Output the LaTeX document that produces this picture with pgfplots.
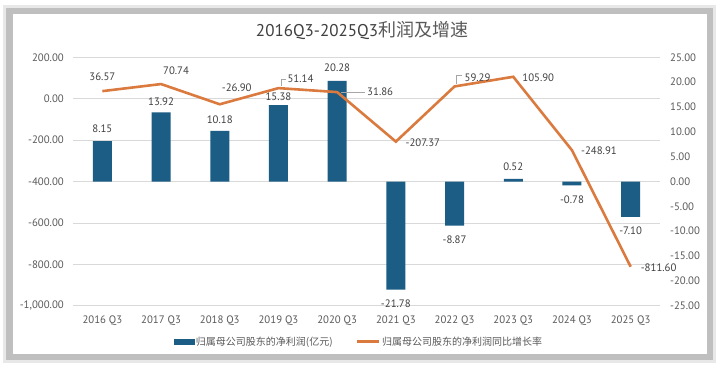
\documentclass[border=0pt]{standalone}
\usepackage{pgfplots}
\pgfplotsset{compat=1.18}
\usepackage{pgfplotstable}
\usepackage{fontspec}
\setmainfont{PT Sans}
\newfontfamily\cjk{Noto Sans CJK SC}
\definecolor{barblue}{HTML}{1B5D85}
\definecolor{lineor}{HTML}{DB7A3E}
\definecolor{gridc}{HTML}{D9D9D9}
\definecolor{tickc}{HTML}{595959}
\definecolor{labc}{HTML}{404040}

\pgfplotstableread{
x val off
0 8.15 12
1 13.92 11
2 10.18 11
3 15.38 8.5
4 20.28 13
5 -21.78 -14.5
6 -8.87 -14
7 0.52 12
8 -0.78 -14
9 -7.10 -14
}\bars

\pgfplotstableread{
x val dx dy
0 36.57 0 14.5
1 70.74 15 13.5
2 -26.90 17 17
3 51.14 22 9.5
4 31.86 43 0
5 -207.37 27 -1
6 59.29 23 9
7 105.90 25 -1
8 -248.91 27 0
9 -811.60 28 -1
}\growth

\pgfplotsset{
  geom/.style={at={(73pt,62.3pt)}, anchor=south west, scale only axis,
    width=587pt, height=248.4pt, xmin=-0.5, xmax=9.5,
    axis line style={draw=none}, major tick length=0pt},
  numfmt/.style={/pgf/number format/.cd, fixed, fixed zerofill, precision=2, 1000 sep={,}, assume math mode=true},
}

\begin{document}
\begin{tikzpicture}[x=1pt,y=1pt]
\useasboundingbox (0,0) rectangle (719,368);
% frame
\fill[gray!18] (3,5) rectangle (716,363);
\fill[gray!50] (6,8) rectangle (713,360);
\fill[white] (13,14) rectangle (707,354);

\node[text=labc, inner sep=0pt] at (362,338) {\fontsize{17}{20}\selectfont 2016Q3-2025Q3{\cjk\color{tickc}\fontsize{18}{20}\selectfont 利润及增速}};

% axis 1: left ticks, grid, x labels
\begin{axis}[geom, ymin=-1000, ymax=200, ytick={-1000,-800,...,200},
  ymajorgrids, grid style={gridc, line width=0.8pt},
  xtick={0,...,9},
  xticklabels={2016 Q3,2017 Q3,2018 Q3,2019 Q3,2020 Q3,2021 Q3,2022 Q3,2023 Q3,2024 Q3,2025 Q3},
  xticklabel style={font=\fontsize{10.8}{12}\selectfont, text=tickc, inner sep=0pt, anchor=north, yshift=-9.5pt},
  yticklabel style={font=\fontsize{10.8}{12}\selectfont, text=tickc, inner sep=0pt, anchor=east, xshift=-9pt},
  y tick label style={numfmt},
]
\end{axis}

% axis 2: bars, right scale
\begin{axis}[geom, ymin=-25, ymax=25, ytick={-25,-20,...,25},
  axis y line*=right, axis x line=none,
  yticklabel style={font=\fontsize{10.8}{12}\selectfont, text=tickc, inner sep=0pt, anchor=west, xshift=10pt},
  y tick label style={numfmt},
]
\addplot[ybar, bar width=19pt, bar shift=0pt, draw=none, fill=barblue,
  nodes near coords={\pgfmathprintnumber[fixed,fixed zerofill,precision=2,assume math mode=true]{\pgfplotspointmeta}},
  visualization depends on={\thisrow{off} \as \off},
  every node near coord/.append style={anchor=center, yshift=\off pt, font=\fontsize{10.8}{12}\selectfont, text=labc, inner sep=0pt}
] table[x=x, y=val] {\bars};
\end{axis}

% axis 3: growth line, left scale
\begin{axis}[geom, ymin=-1000, ymax=200, hide axis,
  legend style={at={(0.487,-0.145)}, anchor=center, draw=none, fill=none,
    font=\cjk\fontsize{10}{11}\selectfont, text=tickc, legend columns=2,
    /tikz/every even column/.append style={column sep=21pt}},
  legend cell align=left,
]
\addlegendimage{legend image code/.code={\fill[barblue] (0pt,-2.5pt) rectangle (20pt,2.5pt);}}
\addlegendimage{legend image code/.code={\draw[lineor, line width=2.5pt] (0pt,0pt) -- (22pt,0pt);}}
\addplot[lineor, line width=2.6pt, mark=none, forget plot,
  nodes near coords={\pgfmathprintnumber[fixed,fixed zerofill,precision=2,assume math mode=true]{\pgfplotspointmeta}},
  visualization depends on={\thisrow{dx} \as \dx},
  visualization depends on={\thisrow{dy} \as \dy},
  every node near coord/.append style={anchor=center, xshift=\dx pt, yshift=\dy pt, font=\fontsize{10.8}{12}\selectfont, text=labc, inner sep=0pt}
] table[x=x, y=val] {\growth};
% leader lines
\draw[gray!70, line width=0.5pt] (axis cs:3,51.14) ++(3pt,2pt) -- ++(0pt,7pt) -- ++(5pt,0pt);
\draw[gray!70, line width=0.5pt] (axis cs:4,31.86) ++(4pt,0pt) -- ++(24pt,0pt);
\draw[gray!70, line width=0.5pt] (axis cs:6,59.29) ++(2pt,2pt) -- ++(0pt,9pt) -- ++(5pt,0pt);
\legend{归属母公司股东的净利润(亿元), 归属母公司股东的净利润同比增长率}
\end{axis}
\end{tikzpicture}
\end{document}
